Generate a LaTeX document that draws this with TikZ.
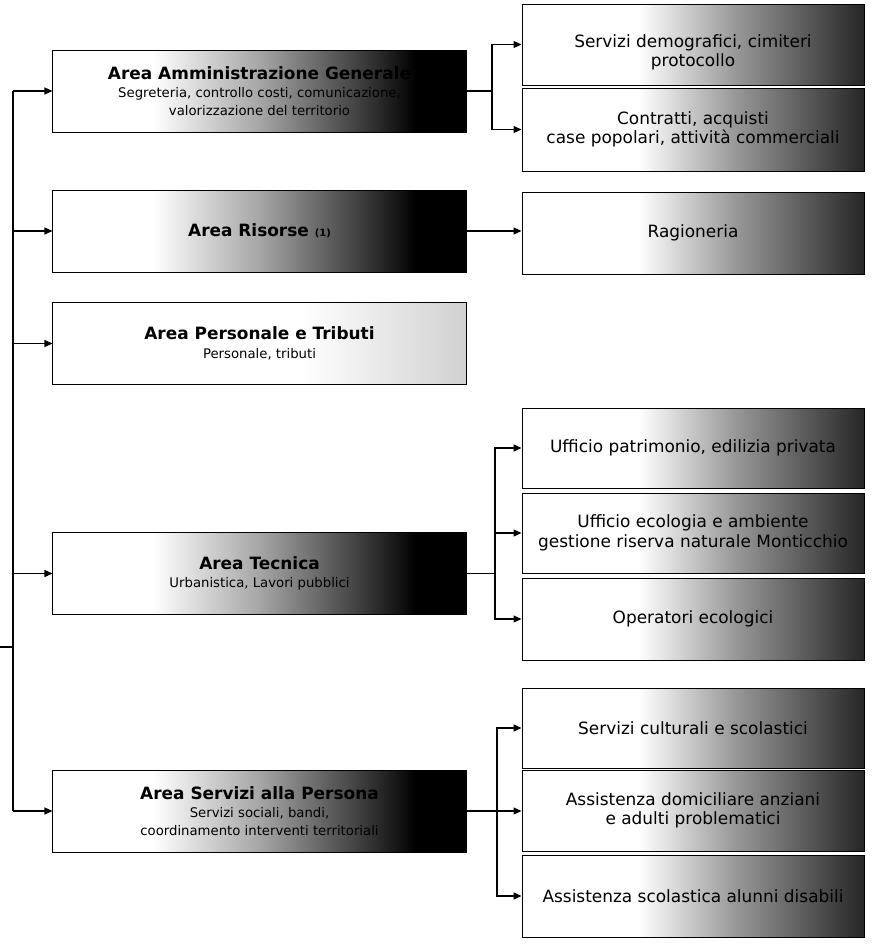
\documentclass[tikz,border=0pt]{standalone}
\usepackage{fontspec}
\setmainfont{DejaVu Sans}
\usetikzlibrary{arrows.meta}
\pgfdeclarehorizontalshading{lgrad}{100bp}{color(0bp)=(white); color(37bp)=(white); color(50bp)=(black!35); color(62bp)=(black!75); color(69bp)=(black); color(100bp)=(black)}
\pgfdeclarehorizontalshading{rgrad}{100bp}{color(0bp)=(white); color(42bp)=(white); color(56bp)=(black!40); color(75bp)=(black!85); color(100bp)=(black!85)}
\pgfdeclarehorizontalshading{pgrad}{100bp}{color(0bp)=(white); color(55bp)=(white); color(75bp)=(black!18); color(100bp)=(black!18)}
\tikzset{
  lbox/.style={draw, line width=1bp, minimum width=413bp, minimum height=82bp, inner sep=0pt, align=center, shading=lgrad, font=\fontsize{13.3}{17.5}\selectfont},
  rbox/.style={draw, line width=1bp, minimum width=342bp, minimum height=81bp, inner sep=0pt, align=center, shading=rgrad, font=\fontsize{17}{19.5}\selectfont},
  conn/.style={line width=1.2bp},
  arr/.style={line width=1.2bp, -{Triangle[length=8bp,width=7bp]}}
}
\newcommand{\ttl}[1]{{\fontsize{17}{20}\selectfont\bfseries #1}}
\begin{document}
\begin{tikzpicture}[x=1bp, y=-1bp]
\useasboundingbox (0,0) rectangle (872,944);
% left column
\node[lbox] (a1) at (259.5,91) {\ttl{Area Amministrazione Generale}\\[1bp]Segreteria, controllo costi, comunicazione,\\valorizzazione del territorio};
\node[lbox] (a2) at (259.5,231) {\ttl{Area Risorse {\fontsize{10}{11}\selectfont(1)}}};
\node[lbox, shading=pgrad] (a3) at (259.5,343.5) {\ttl{Area Personale e Tributi}\\[1bp]Personale, tributi};
\node[lbox] (a4) at (259.5,573.5) {\ttl{Area Tecnica}\\[1bp]Urbanistica, Lavori pubblici};
\node[lbox] (a5) at (259.5,811) {\ttl{Area Servizi alla Persona}\\[1bp]Servizi sociali, bandi,\\coordinamento interventi territoriali};
% right column
\node[rbox] (r1) at (693,44.5) {\rule{0pt}{28bp}Servizi demografici, cimiteri\\protocollo};
\node[rbox, minimum height=83bp] (r2) at (693,129.5) {Contratti, acquisti\\case popolari, attività commerciali};
\node[rbox, minimum height=82bp] (r3) at (693,233) {Ragioneria};
\node[rbox, minimum height=80bp] (r4) at (693,448) {Ufficio patrimonio, edilizia privata};
\node[rbox, minimum height=80bp] (r5) at (693,533) {Ufficio ecologia e ambiente\\gestione riserva naturale Monticchio};
\node[rbox, minimum height=82bp] (r6) at (693,619) {Operatori ecologici};
\node[rbox, minimum height=80bp] (r7) at (693,728) {Servizi culturali e scolastici};
\node[rbox, minimum height=81bp] (r8) at (693,810.5) {Assistenza domiciliare anziani\\e adulti problematici};
\node[rbox, minimum height=82bp] (r9) at (693,896) {Assistenza scolastica alunni disabili};
% main spine
\coordinate (root) at (0,647);
\coordinate (jt) at (13,91);
\coordinate (jb) at (13,811);
\coordinate (jm) at (13,647);
\draw[conn] (root) -- (jm);
\draw[conn] (jt) -- (jb);
\foreach \n in {a1,a2,a3,a4,a5} \draw[arr] (13,0 |- \n.west) -- (\n.west);
% area 1 -> r1, r2
\coordinate (s1) at (492,91);
\draw[conn] (a1.east) -- (s1);
\draw[arr] (s1) |- (r1.west);
\draw[arr] (s1) |- (r2.west);
% area 2 -> r3
\draw[arr] (a2.east) -- (a2.east -| r3.west);
% area 4 -> r4, r5, r6
\coordinate (s4) at (495,573.5);
\draw[conn] (a4.east) -- (s4);
\draw[arr] (s4) |- (r4.west);
\draw[arr] (s4) |- (r5.west);
\draw[arr] (s4) |- (r6.west);
% area 5 -> r7, r8, r9
\coordinate (s5) at (497,811);
\draw[conn] (a5.east) -- (s5);
\draw[arr] (s5) |- (r7.west);
\draw[arr] (s5) -- (s5 -| r8.west);
\draw[arr] (s5) |- (r9.west);
\end{tikzpicture}
\end{document}
